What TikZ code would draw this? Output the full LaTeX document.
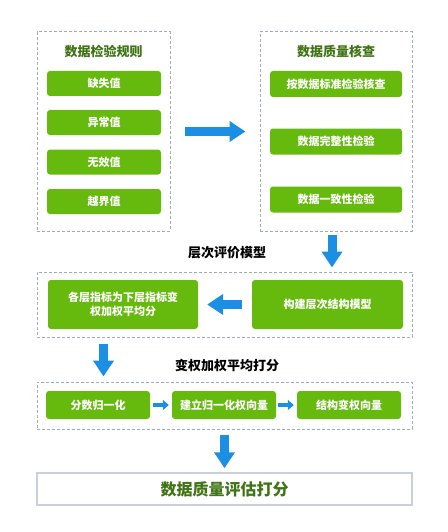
\documentclass[tikz,border=0pt]{standalone}
\usepackage{fontspec}
\setmainfont{Noto Sans CJK SC}
\usepackage{tikz}
\usetikzlibrary{arrows.meta}

\definecolor{boxgreen}{HTML}{66BA0E}
\definecolor{titlegreen}{HTML}{3F7414}
\definecolor{dashgray}{HTML}{A3ADB8}
\definecolor{arrowblue}{HTML}{1A8FE3}
\definecolor{framegray}{HTML}{C9D1D8}

\begin{document}
\begin{tikzpicture}[x=1pt, y=-1pt,
    greenbox/.style ={fill=boxgreen, rounded corners=3pt, text=white, font=\bfseries\fontsize{11}{14}\selectfont, align=center, inner sep=0pt},
    dashbox/.style ={draw=dashgray, line width=1pt, dash pattern=on 3pt off 2pt, inner sep=0pt},
    titletext/.style ={font=\bfseries\fontsize{13}{15}\selectfont},
    bigarrow/.style ={draw=arrowblue, line width=9pt, -{Triangle[length=16pt, width=20pt]}},
    smallarrow/.style ={draw=arrowblue, line width=4pt, -{Triangle[length=6pt, width=10pt]}}]
   \useasboundingbox (0,0) rectangle (447,532);

   % top row
   \node[dashbox, minimum width=133pt, minimum height=199pt] (rules) at (103.5,131.5) {};
   \node[dashbox, minimum width=152pt, minimum height=199pt] (check) at (336,131.5) {};
   \node[titletext, text=titlegreen] (rulestitle) at (103.5,52) {数据检验规则};
   \node[titletext, text=titlegreen] (checktitle) at (336,52) {数据质量核查};

   \node[greenbox, minimum width=114pt, minimum height=25pt] (missing)  at (104,83.5)  {缺失值};
   \node[greenbox, minimum width=114pt, minimum height=25pt] (abnormal) at (104,122.5) {异常值};
   \node[greenbox, minimum width=114pt, minimum height=25pt] (invalid)  at (104,162)   {无效值};
   \node[greenbox, minimum width=114pt, minimum height=25pt] (outrange) at (104,201.5) {越界值};

   \node[greenbox, minimum width=132pt, minimum height=26pt] (standard)  at (336,84)    {按数据标准检验核查};
   \node[greenbox, minimum width=132pt, minimum height=26pt] (complete)  at (336,141.5) {数据完整性检验};
   \node[greenbox, minimum width=132pt, minimum height=26pt] (consistent) at (336,199.5) {数据一致性检验};

   % hierarchy model
   \node[titletext] (modeltitle) at (227,253) {层次评价模型};
   \node[dashbox, minimum width=375pt, minimum height=65pt] (model) at (224.5,304.5) {};
   \node[greenbox, minimum width=150pt, minimum height=49pt] (layerscore) at (123,304.5) {各层指标为下层指标变\\权加权平均分};
   \node[greenbox, minimum width=151pt, minimum height=49pt] (buildmodel) at (327.5,304.5) {构建层次结构模型};

   % weighting
   \node[titletext] (weighttitle) at (227,365) {变权加权平均打分};
   \node[dashbox, minimum width=375pt, minimum height=47pt] (weight) at (224.5,405.5) {};
   \node[greenbox, minimum width=104pt, minimum height=28pt] (normalize) at (98,405)  {分数归一化};
   \node[greenbox, minimum width=104pt, minimum height=28pt] (normvec)   at (224,405) {建立归一化权向量};
   \node[greenbox, minimum width=104pt, minimum height=28pt] (structvec) at (349,405) {结构变权向量};

   % result
   \node[draw=framegray, line width=1.5pt, minimum width=375pt, minimum height=32pt, inner sep=0pt,
         font=\bfseries\fontsize{16}{18}\selectfont, text=titlegreen] (result) at (224.5,489) {数据质量评估打分};

   \draw[bigarrow, shorten <=14pt, shorten >=14pt] (rules) -- (check);
   \draw[bigarrow, shorten <=3pt, shorten >=4pt] ([xshift=-4pt]check.south) -- ([xshift=-4pt]check.south |- model.north);
   \draw[bigarrow, shorten <=10pt, shorten >=9pt] (buildmodel) -- (layerscore);
   \draw[bigarrow, shorten <=6pt, shorten >=5pt] (rules.center |- model.south) -- (rules.center |- weight.north);
   \draw[bigarrow, shorten <=5pt, shorten >=4pt] (weight) -- (result);
   \draw[smallarrow, shorten <=3pt, shorten >=3pt] (normalize) -- (normvec);
   \draw[smallarrow, shorten <=2pt, shorten >=3pt] (normvec) -- (structvec);
 \end{tikzpicture}
\end{document}
